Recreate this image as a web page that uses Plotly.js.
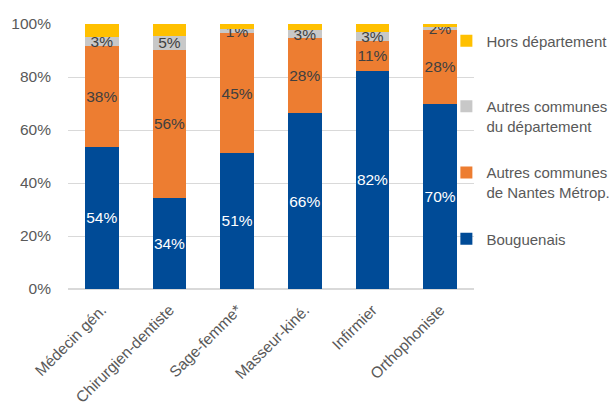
<!DOCTYPE html>
<html>
<head>
<meta charset="utf-8">
<script src="https://cdn.plot.ly/plotly-3.0.1.min.js"></script>
<style>html,body{margin:0;padding:0;background:#fff;}#chart{width:614px;height:403px;}</style>
</head>
<body>
<div id="chart"></div>
<script>
const categories = ['Médecin gén.', 'Chirurgien-dentiste', 'Sage-femme*', 'Masseur-kiné.', 'Infirmier', 'Orthophoniste'];
const bouguenais = [53.6, 34.5, 51.4, 66.4, 82.4, 69.9];
const nantesMetrop = [38.1, 55.7, 45.1, 28.3, 11.2, 27.8];
const autresDept = [3.3, 5.3, 1.5, 3.0, 3.3, 1.1];
const horsDept = [5.0, 4.5, 2.0, 2.3, 3.1, 1.2];
const bouguenaisLabels = ['54%', '34%', '51%', '66%', '82%', '70%'];
const nantesLabels = ['38%', '56%', '45%', '28%', '11%', '28%'];
const deptLabels = ['3%', '5%', '1%', '3%', '3%', '2%'];
const seriesNames = ['Bouguenais', 'Autres communes<br>de Nantes Métrop.', 'Autres communes<br>du département', 'Hors département'];
const yTicks = [0, 20, 40, 60, 80, 100];

const FONT = '"Liberation Sans", Arial, sans-serif';
const FS = 15.5;
const LFS = 15;
const TXT = '#595959';

function bar(y, name, color, text, textColor, legendId) {
  return {
    type: 'bar', x: categories, y: y, name: name,
    marker: {color: color, line: {width: 0}},
    text: text, textposition: text ? 'inside' : 'none',
    insidetextanchor: 'middle', textangle: 0, constraintext: 'none',
    textfont: {family: FONT, size: FS, color: textColor},
    hoverinfo: 'none', legend: legendId
  };
}

const data = [
  bar(bouguenais, seriesNames[0], '#004B97', bouguenaisLabels, '#ffffff', 'legend4'),
  bar(nantesMetrop, seriesNames[1], '#ED7D31', nantesLabels, '#404040', 'legend3'),
  bar(autresDept, seriesNames[2], '#C8C8C8', deptLabels, '#404040', 'legend2'),
  bar(horsDept, seriesNames[3], '#FFC000', null, '#404040', 'legend')
];

function leg(y) {
  return {xref: 'container', yref: 'container', x: 0.727, xanchor: 'left', y: y, yanchor: 'middle', valign: 'top',
    font: {family: FONT, size: LFS, color: TXT}, bgcolor: 'rgba(0,0,0,0)', borderwidth: 0};
}

const layout = {
  width: 614, height: 403,
  margin: {l: 68, r: 140, t: 24, b: 114, autoexpand: false},
  paper_bgcolor: '#fff', plot_bgcolor: '#fff',
  barmode: 'stack', bargap: 0.5,
  font: {family: FONT, size: FS, color: TXT},
  showlegend: true,
  legend: leg(0.898),
  legend2: leg(0.712),
  legend3: leg(0.548),
  legend4: leg(0.407),
  xaxis: {tickangle: -45, tickfont: {family: FONT, size: FS, color: TXT}, showline: false, ticks: '', automargin: false, ticklabelstandoff: 8},
  yaxis: {range: [0, 100], tickvals: yTicks, ticktext: yTicks.map(v => v + '%'),
    gridcolor: '#D9D9D9', gridwidth: 1, zeroline: true, zerolinecolor: '#D9D9D9', zerolinewidth: 2,
    tickfont: {family: FONT, size: FS, color: TXT}, ticks: '', ticklabelstandoff: 16, automargin: false}
};

Plotly.newPlot('chart', data, layout, {displayModeBar: false, staticPlot: true});
</script>
</body>
</html>
